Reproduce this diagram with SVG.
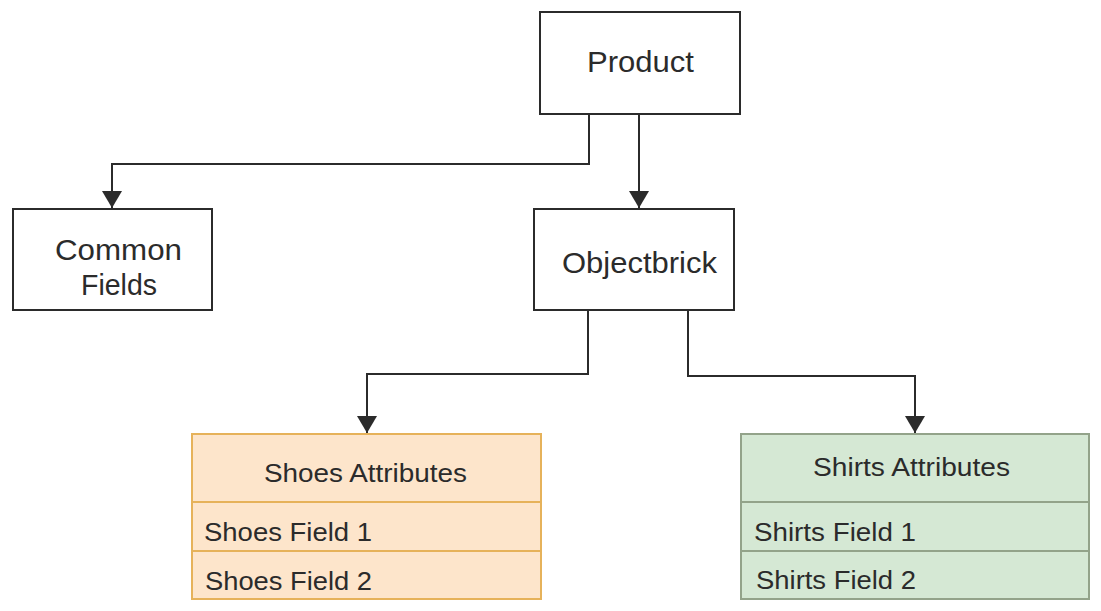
<svg xmlns="http://www.w3.org/2000/svg" width="1101" height="611" viewBox="0 0 1101 611">
<style>
.box{fill:#ffffff;stroke:#2b2b2b;stroke-width:2}
.shoes{fill:#fde5cb;stroke:#e6b25a;stroke-width:2}
.shirts{fill:#d5e8d4;stroke:#93a38a;stroke-width:2}
.t{font-family:"Liberation Sans",Arial,sans-serif;fill:#2b2b2b}
.big{font-size:29px}
.small{font-size:26px}
.conn{fill:none;stroke:#2b2b2b;stroke-width:2}
</style>
<defs>
<marker id="arrow" markerUnits="userSpaceOnUse" markerWidth="18" markerHeight="20" refX="17" refY="10" orient="auto">
<path d="M0,0 L17,10 L0,20 z" fill="#2b2b2b"/>
</marker>
</defs>
<rect width="1101" height="611" fill="#ffffff"/>
<g id="connectors">
<path class="conn" d="M589,114 V164 H112 V208" marker-end="url(#arrow)"/>
<path class="conn" d="M639,114 V208" marker-end="url(#arrow)"/>
<path class="conn" d="M588,310 V374 H367 V433" marker-end="url(#arrow)"/>
<path class="conn" d="M688,310 V376 H915 V433" marker-end="url(#arrow)"/>
</g>
<g id="product">
<rect class="box" x="540" y="12" width="200" height="102"/>
<text class="t big" x="587" y="72" textLength="107" lengthAdjust="spacingAndGlyphs">Product</text>
</g>
<g id="common-fields">
<rect class="box" x="13" y="209" width="199" height="101"/>
<text class="t big" x="55" y="260" textLength="127" lengthAdjust="spacingAndGlyphs">Common</text>
<text class="t big" x="81" y="295" textLength="76" lengthAdjust="spacingAndGlyphs">Fields</text>
</g>
<g id="objectbrick">
<rect class="box" x="534" y="209" width="200" height="101"/>
<text class="t big" x="562" y="273" textLength="155" lengthAdjust="spacingAndGlyphs">Objectbrick</text>
</g>
<g id="shoes-attributes">
<rect class="shoes" x="192" y="434" width="349" height="165"/>
<line class="shoes" x1="192" y1="502" x2="541" y2="502" stroke-width="3"/>
<line class="shoes" x1="192" y1="551" x2="541" y2="551" stroke-width="3"/>
<text class="t small" x="264" y="482" textLength="203" lengthAdjust="spacingAndGlyphs">Shoes Attributes</text>
<text class="t small" x="204" y="541" textLength="168" lengthAdjust="spacingAndGlyphs">Shoes Field 1</text>
<text class="t small" x="205" y="590" textLength="167" lengthAdjust="spacingAndGlyphs">Shoes Field 2</text>
</g>
<g id="shirts-attributes">
<rect class="shirts" x="741" y="434" width="348" height="165"/>
<line class="shirts" x1="741" y1="502" x2="1089" y2="502" stroke-width="3"/>
<line class="shirts" x1="741" y1="551" x2="1089" y2="551" stroke-width="3"/>
<text class="t small" x="813" y="476" textLength="197" lengthAdjust="spacingAndGlyphs">Shirts Attributes</text>
<text class="t small" x="754" y="541" textLength="162" lengthAdjust="spacingAndGlyphs">Shirts Field 1</text>
<text class="t small" x="756" y="589" textLength="160" lengthAdjust="spacingAndGlyphs">Shirts Field 2</text>
</g>
</svg>
